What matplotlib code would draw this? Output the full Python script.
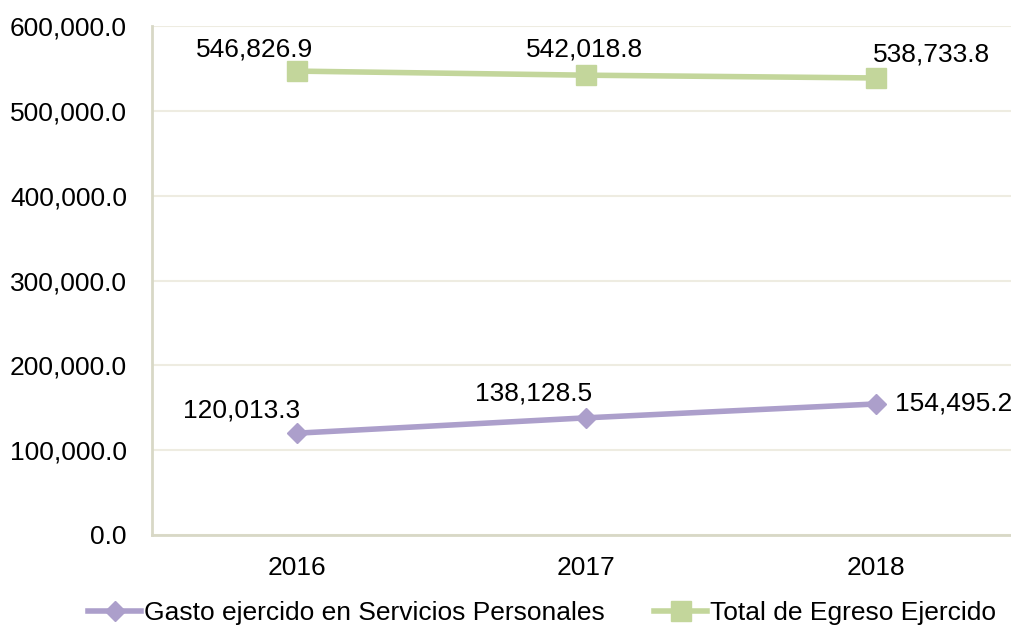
import matplotlib.pyplot as plt
from matplotlib.ticker import FuncFormatter

plt.rcParams["font.family"] = ["Liberation Sans", "DejaVu Sans"]

# datos
years = ["2016", "2017", "2018"]
gasto_personales = [120013.3, 138128.5, 154495.2]
total_egreso = [546826.9, 542018.8, 538733.8]

# posiciones de las etiquetas (pixeles respecto al punto)
offs_gasto = [(-55, 23, "center"), (-53, 24, "center"), (19, 0, "left")]
offs_total = [(-42, 22, "center"), (-2, 26, "center"), (-3, 23, "left")]

PURPLE = "#AC9FCB"
GREEN = "#C3D69B"
FS = 19

fig = plt.figure(figsize=(10.12, 6.26), dpi=100)
ax = fig.add_axes([152 / 1012, 1 - 535 / 626, 869 / 1012, 509 / 626])

x = range(len(years))

ax.plot(
    x, gasto_personales,
    color=PURPLE, linewidth=4, marker="D", markersize=10.5,
    label="Gasto ejercido en Servicios Personales",
)
ax.plot(
    x, total_egreso,
    color=GREEN, linewidth=4, marker="s", markersize=14.5,
    label="Total de Egreso Ejercido",
)

for i, v in enumerate(gasto_personales):
    dx, dy, ha = offs_gasto[i]
    ax.annotate(f"{v:,.1f}", (i, v), xytext=(dx, dy), textcoords="offset pixels",
                ha=ha, va="center", fontsize=FS, color="black")

for i, v in enumerate(total_egreso):
    dx, dy, ha = offs_total[i]
    ax.annotate(f"{v:,.1f}", (i, v), xytext=(dx, dy), textcoords="offset pixels",
                ha=ha, va="center", fontsize=FS, color="black")

ax.set_xlim(-0.5, 2.5)
ax.set_ylim(0, 600000)
ax.set_yticks(range(0, 600001, 100000))
ax.yaxis.set_major_formatter(FuncFormatter(lambda v, p: f"{v:,.1f}"))
ax.set_xticks(list(x))
ax.set_xticklabels(years)

ax.grid(axis="y", color="#EEECE1", linewidth=1.5)
ax.set_axisbelow(True)
for s in ["top", "right"]:
    ax.spines[s].set_visible(False)
for s in ["left", "bottom"]:
    ax.spines[s].set_color("#D8D8C6")
    ax.spines[s].set_linewidth(2)

ax.tick_params(axis="both", length=0, labelsize=FS)
ax.tick_params(axis="y", pad=18)
ax.tick_params(axis="x", pad=15)

fig.legend(
    loc="center", bbox_to_anchor=(542 / 1012, 1 - 613 / 626),
    ncol=2, frameon=False, fontsize=FS,
    handlelength=2.0, handletextpad=0.1, columnspacing=1.9,
)

fig.savefig("out.png", dpi=100)
